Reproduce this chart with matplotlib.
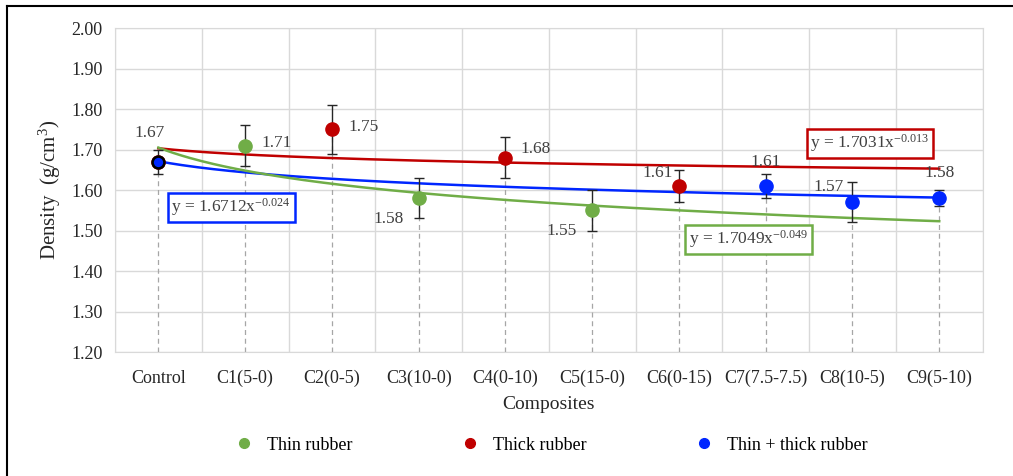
import numpy as np
import matplotlib.pyplot as plt
from matplotlib.lines import Line2D

plt.rcParams["font.family"] = ["Liberation Serif", "DejaVu Serif"]
plt.rcParams["mathtext.fontset"] = "custom"
plt.rcParams["mathtext.rm"] = "Liberation Serif"
plt.rcParams["mathtext.it"] = "Liberation Serif:italic"
plt.rcParams["mathtext.default"] = "rm"
plt.rcParams["axes.unicode_minus"] = False

composites = ["Control", "C1(5-0)", "C2(0-5)", "C3(10-0)", "C4(0-10)",
              "C5(15-0)", "C6(0-15)", "C7(7.5-7.5)", "C8(10-5)", "C9(5-10)"]
density = [1.67, 1.71, 1.75, 1.58, 1.68, 1.55, 1.61, 1.61, 1.57, 1.58]
err = [0.03, 0.05, 0.06, 0.05, 0.05, 0.05, 0.04, 0.03, 0.05, 0.02]
group = ["control", "thin", "thick", "thin", "thick", "thin", "thick", "mix", "mix", "mix"]

# power trend fits y = a * x^b over x = 1..10
fit_a = {"thin": 1.7049, "thick": 1.7031, "mix": 1.6712}
fit_b = {"thin": "-0.049", "thick": "-0.013", "mix": "-0.024"}

colors = {"thin": "#70ad47", "thick": "#c00000", "mix": "#0026ff"}
names = {"thin": "Thin rubber", "thick": "Thick rubber", "mix": "Thin + thick rubber"}

fig = plt.figure(figsize=(10.13, 4.76), dpi=100)
ax = fig.add_axes([0.1135, 0.2605, 0.8565, 0.6805])

x = np.arange(len(composites))

# drop lines from each point to the axis
for xi, yi in zip(x, density):
    ax.plot([xi, xi], [1.2, yi], color="#a6a6a6", lw=0.9, ls=(0, (4, 3)), zorder=1)

# trend lines
xs = np.linspace(1, 10, 200)
for g in ["thick", "mix", "thin"]:
    ax.plot(xs - 1, fit_a[g] * xs ** float(fit_b[g]), color=colors[g], lw=1.8, zorder=2)

ax.errorbar(x, density, yerr=err, fmt="none", ecolor="#262626",
            elinewidth=1.0, capsize=3.5, capthick=1.0, zorder=3)

for xi, yi, g in zip(x, density, group):
    if g == "control":
        ax.plot(xi, yi, "o", ms=9.5, color="#c00000", zorder=4)
        ax.plot(xi, yi, "o", ms=8.5, mfc="#0026ff", mec="black", mew=1.8, zorder=5)
    else:
        ax.plot(xi, yi, "o", ms=9.5, color=colors[g], zorder=4)

# value labels
offsets = [(-6, 21), (23, 2), (23, 2), (-22, -15), (22, 6),
           (-22, -15), (-15, 9), (0, 17), (-17, 11), (0, 18)]
for xi, yi, (dx, dy) in zip(x, density, offsets):
    ax.annotate(f"{yi:.2f}", (xi, yi), xytext=(dx, dy), textcoords="offset points",
                ha="center", va="center", fontsize=12.5, color="#404040")

# trend equations
eqs = [("mix", 0.84, 1.557), ("thick", 8.2, 1.715), ("thin", 6.8, 1.478)]
for g, ex, ey in eqs:
    ax.text(ex, ey, f"y = {fit_a[g]:.4f}x$^{{{fit_b[g]}}}$", ha="center", va="center",
            fontsize=12.5, color="#404040",
            bbox=dict(boxstyle="square,pad=0.2", fc="white", ec=colors[g], lw=1.8))

ax.set_xlim(-0.5, len(composites) - 0.5)
ax.set_ylim(1.2, 2.0)
ax.set_yticks(np.arange(1.2, 2.01, 0.1))
ax.set_yticklabels([f"{v:.2f}" for v in np.arange(1.2, 2.01, 0.1)])
ax.set_xticks(x)
ax.set_xticklabels(composites)
ax.set_xticks(np.arange(-0.5, len(composites)), minor=True)
ax.grid(axis="y", color="#d9d9d9", lw=1.0)
ax.grid(axis="x", which="minor", color="#d9d9d9", lw=1.0)
ax.set_axisbelow(True)
ax.tick_params(which="both", length=0, labelsize=13, labelcolor="#262626")
ax.tick_params(axis="x", pad=13)
ax.tick_params(axis="y", pad=9)
for s in ax.spines.values():
    s.set_color("#d9d9d9")

ax.set_xlabel("Composites", fontsize=14, color="#262626", labelpad=6)
ax.set_ylabel("Density  (g/cm$^3$)", fontsize=15, color="#262626", labelpad=6)

handles = [Line2D([], [], ls="none", marker="o", ms=7, color=colors[g]) for g in ["thin", "thick", "mix"]]
fig.legend(handles, [names[g] for g in ["thin", "thick", "mix"]], loc="center",
           bbox_to_anchor=(0.543, 0.065), ncol=3, frameon=False, fontsize=13,
           columnspacing=5.9, handletextpad=0.68, handlelength=1.2, borderpad=0)

# frame lines along top and left edges
fig.add_artist(Line2D([0.0069, 1.0], [0.987, 0.987], transform=fig.transFigure, color="black", lw=1.5))
fig.add_artist(Line2D([0.0069, 0.0069], [0.0, 0.987], transform=fig.transFigure, color="black", lw=1.5))

fig.savefig("out.png", dpi=100)
